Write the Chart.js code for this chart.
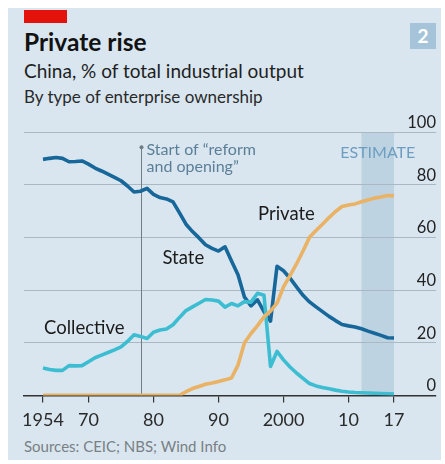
<!DOCTYPE html>
<html>
<head>
<meta charset="utf-8">
<script src="https://cdn.jsdelivr.net/npm/chart.js@4"></script>
<style>
  html, body { margin: 0; padding: 0; background: #fff; }
  body { width: 445px; height: 464px; position: relative; overflow: hidden; font-family: Lato, sans-serif; }
  .panel { position: absolute; left: 8px; top: 8px; width: 433px; height: 452px; background: #d9e6ef; }
  .txt { position: absolute; left: 24px; white-space: nowrap; line-height: 1; }
  #redbar { position: absolute; left: 24px; top: 10px; width: 43px; height: 13px; background: #e3120b; }
  #title { top: 30px; font-size: 24.5px; font-weight: 700; color: #121212; }
  #sub1 { top: 61px; font-size: 19px; color: #1e1e1e; }
  #sub2 { top: 88px; font-size: 17px; color: #2a2a2a; }
  #source { top: 439px; font-size: 15px; color: #7a7f84; }
  #badge { position: absolute; left: 410px; top: 23px; width: 26px; height: 26px; background: #a6c4d9; color: #fff;
           font-weight: 700; font-size: 19px; text-align: center; line-height: 26px; }
  canvas { position: absolute; left: 0; top: 0; }
</style>
</head>
<body>
<div class="panel"></div>
<div id="redbar"></div>
<div id="title" class="txt">Private rise</div>
<div id="sub1" class="txt">China, % of total industrial output</div>
<div id="sub2" class="txt">By type of enterprise ownership</div>
<div id="source" class="txt">Sources: CEIC; NBS; Wind Info</div>
<div id="badge">2</div>
<canvas id="chart" width="445" height="464"></canvas>
<script>
// years on the axis (1954 is followed directly by the mid-1960s)
const years = [1954,
  1964, 1965, 1966, 1967, 1968, 1969, 1970, 1971, 1972, 1973,
  1974, 1975, 1976, 1977, 1978, 1979, 1980, 1981, 1982, 1983,
  1984, 1985, 1986, 1987, 1988, 1989, 1990, 1991, 1992, 1993,
  1994, 1995, 1996, 1997, 1998, 1999, 2000, 2001, 2002, 2003,
  2004, 2005, 2006, 2007, 2008, 2009, 2010, 2011, 2012, 2013,
  2014, 2015, 2016, 2017];

// % of total industrial output
const stateShare = [89.6,
  90.0, 90.3, 90.0, 88.7, 88.8, 89.0, 87.8, 86.3, 85.2, 84.0,
  82.8, 81.5, 79.5, 77.2, 77.5, 78.6, 76.3, 75.1, 74.6, 73.5,
  69.3, 65.0, 62.2, 59.8, 57.2, 55.8, 54.8, 56.4, 51.0, 45.8,
  37.3, 34.0, 36.3, 31.8, 28.2, 49.0, 47.3, 44.5, 41.2, 38.0,
  35.5, 33.6, 31.8, 30.0, 28.4, 26.9, 26.4, 26.0, 25.3, 24.4,
  23.6, 22.8, 21.9, 21.8];

const collectiveShare = [10.4,
  9.8, 9.5, 9.5, 11.3, 11.2, 11.3, 12.8, 14.3, 15.3, 16.3,
  17.3, 18.4, 20.5, 23.0, 22.4, 21.6, 24.0, 24.8, 25.2, 26.8,
  29.6, 32.2, 33.6, 35.0, 36.4, 36.2, 35.8, 33.5, 34.9, 34.0,
  35.6, 35.4, 38.8, 38.0, 11.0, 16.7, 13.5, 10.8, 8.5, 6.5,
  4.5, 3.6, 3.0, 2.5, 2.0, 1.6, 1.3, 1.1, 1.0, 0.9,
  0.8, 0.7, 0.6, 0.5];

const privateShare = [0,
  0, 0, 0, 0, 0, 0, 0, 0, 0, 0,
  0, 0, 0, 0, 0, 0, 0, 0, 0, 0,
  0, 1.4, 2.6, 3.4, 4.2, 4.7, 5.3, 5.9, 6.6, 11.5,
  20.0, 23.5, 26.5, 29.8, 32.0, 35.0, 41.2, 45.5, 49.9, 54.8,
  60.0, 62.6, 65.0, 67.5, 69.8, 71.7, 72.3, 72.7, 73.5, 74.2,
  74.9, 75.3, 75.9, 75.8];

const xTickYears = [1954, 1970, 1980, 1990, 2000, 2010, 2017];
const xTickLabels = ['1954', '70', '80', '90', '2000', '10', '17'];
const yTicks = [0, 20, 40, 60, 80, 100];

const reformYear = 1978;
const estimateFrom = 2012;

const toPoints = arr => arr.map((v, i) => ({ x: i, y: v }));
const idx = yr => years.indexOf(yr);

const FONT = 'Lato, sans-serif';

const extras = {
  id: 'extras',
  beforeDraw(chart) {
    // shaded estimate period
    const { ctx, chartArea, scales: { x } } = chart;
    const x0 = x.getPixelForValue(idx(estimateFrom));
    const x1 = x.getPixelForValue(years.length - 1);
    ctx.save();
    ctx.fillStyle = '#bdd3e2';
    ctx.fillRect(x0, chartArea.top, x1 - x0, chartArea.bottom - chartArea.top);
    ctx.restore();
  },
  beforeDatasetsDraw(chart) {
    // "reform and opening" marker
    const { ctx, chartArea, scales: { x, y } } = chart;
    const rx = Math.round(x.getPixelForValue(idx(reformYear))) + 0.5;
    const top = y.getPixelForValue(94.2);
    ctx.save();
    ctx.strokeStyle = '#6f7d87';
    ctx.lineWidth = 1;
    ctx.beginPath();
    ctx.moveTo(rx, top);
    ctx.lineTo(rx, chartArea.bottom);
    ctx.stroke();
    ctx.fillStyle = '#6f7d87';
    ctx.beginPath();
    ctx.arc(rx, top, 2, 0, Math.PI * 2);
    ctx.fill();
    ctx.restore();
  },
  afterDraw(chart) {
    const { ctx, chartArea, scales: { x, y } } = chart;
    ctx.save();
    // y labels sit above their gridlines on the right
    ctx.font = '16.5px ' + FONT;
    ctx.fillStyle = '#222';
    ctx.textAlign = 'right';
    ctx.textBaseline = 'alphabetic';
    yTicks.forEach(v => ctx.fillText(String(v), chartArea.right, y.getPixelForValue(v) - 4));

    // annotation text
    ctx.textAlign = 'left';
    ctx.fillStyle = '#5b7f98';
    ctx.font = '16px ' + FONT;
    const rx = x.getPixelForValue(idx(reformYear));
    ctx.fillText('Start of \u201creform', rx + 6, 154.5);
    ctx.fillText('and opening\u201d', rx + 6, 172);

    ctx.fillStyle = '#6d9ec1';
    ctx.textAlign = 'center';
    ctx.fillText('ESTIMATE', (x.getPixelForValue(idx(estimateFrom)) + x.getPixelForValue(years.length - 1)) / 2, 157.5);

    // series names
    ctx.fillStyle = '#1b1b1b';
    ctx.textAlign = 'left';
    ctx.font = '18.5px ' + FONT;
    ctx.fillText('State', 162.5, 264);
    ctx.fillText('Collective', 44, 333.5);
    ctx.fillText('Private', 258, 219.5);
    ctx.restore();
  }
};

const line = (data, color, order) => ({
  data: toPoints(data),
  borderColor: color,
  borderWidth: 3.6,
  pointRadius: 0,
  tension: 0,
  borderJoinStyle: 'round',
  order
});

new Chart(document.getElementById('chart'), {
  type: 'line',
  data: {
    datasets: [
      line(privateShare, '#e9b264', 0),
      line(collectiveShare, '#3cbdd1', 1),
      line(stateShare, '#17679a', 2)
    ]
  },
  options: {
    responsive: false,
    animation: false,
    layout: { padding: { left: 24, right: 9, top: 132, bottom: 26 } },
    plugins: { legend: { display: false }, tooltip: { enabled: false } },
    scales: {
      x: {
        type: 'linear',
        min: -2.923,
        max: 60.46,
        afterBuildTicks: s => { s.ticks = xTickYears.map(yr => ({ value: idx(yr) })); },
        ticks: {
          autoSkip: false,
          maxRotation: 0,
          padding: 7,
          color: '#2a2a2a',
          font: { family: FONT, size: 18 },
          callback: (v, i) => xTickLabels[i]
        },
        grid: { drawOnChartArea: false, drawTicks: true, tickLength: 7, color: '#333', lineWidth: 1.2 },
        border: { display: true, color: '#333', width: 1.4 }
      },
      y: {
        position: 'right',
        min: 0,
        max: 100,
        afterBuildTicks: s => { s.ticks = yTicks.map(v => ({ value: v })); },
        ticks: { display: false },
        grid: { color: '#a9b8c3', lineWidth: 1, drawTicks: false },
        border: { display: false }
      }
    }
  },
  plugins: [extras]
});
</script>
</body>
</html>
